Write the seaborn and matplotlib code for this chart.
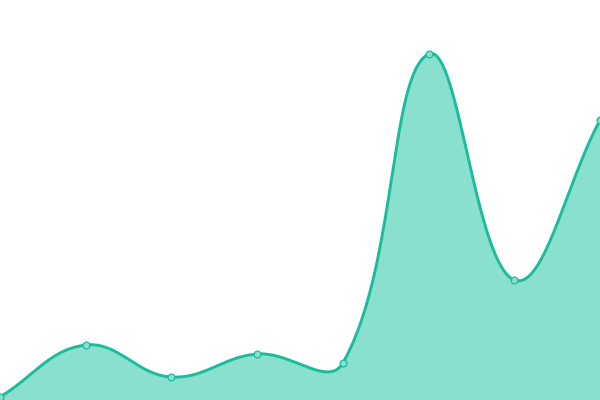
import matplotlib
matplotlib.use("Agg")
import matplotlib.pyplot as plt
import seaborn as sns
import numpy as np
import pandas as pd

# Duomenys
x_vals = [0, 1, 2, 3, 4, 5, 6, 7]
y_vals = [3, 55, 23, 46, 37, 346, 120, 280]

LINE = "#1abc9c"
FILL = "#8ae0cf"
TENSION = 0.4


def bezier_curve(xs, ys, sx=600 / 7, sy=1.0, tension=TENSION, steps=40):
    # glodi kreivė: valdymo taškai pagal atstumus ekrane
    xs = np.asarray(xs, float)
    ys = np.asarray(ys, float)
    n = len(xs)
    cps = []
    for i in range(n):
        prev = (xs[max(i - 1, 0)], ys[max(i - 1, 0)])
        nxt = (xs[min(i + 1, n - 1)], ys[min(i + 1, n - 1)])
        cur = (xs[i], ys[i])
        d01 = np.hypot((cur[0] - prev[0]) * sx, (cur[1] - prev[1]) * sy)
        d12 = np.hypot((nxt[0] - cur[0]) * sx, (nxt[1] - cur[1]) * sy)
        tot = d01 + d12
        s01 = d01 / tot if tot else 0
        s12 = d12 / tot if tot else 0
        fa, fb = tension * s01, tension * s12
        cp_prev = (cur[0] - fa * (nxt[0] - prev[0]), cur[1] - fa * (nxt[1] - prev[1]))
        cp_next = (cur[0] + fb * (nxt[0] - prev[0]), cur[1] + fb * (nxt[1] - prev[1]))
        cps.append((cp_prev, cp_next))
    out_x, out_y = [], []
    t = np.linspace(0, 1, steps, endpoint=False)
    for i in range(n - 1):
        p0 = (xs[i], ys[i])
        p1 = cps[i][1]
        p2 = cps[i + 1][0]
        p3 = (xs[i + 1], ys[i + 1])
        for k in range(2):
            out = out_x if k == 0 else out_y
            out.extend((1 - t) ** 3 * p0[k] + 3 * (1 - t) ** 2 * t * p1[k]
                       + 3 * (1 - t) * t ** 2 * p2[k] + t ** 3 * p3[k])
    out_x.append(xs[-1])
    out_y.append(ys[-1])
    return np.array(out_x), np.array(out_y)


cx, cy = bezier_curve(x_vals, y_vals)
curve = pd.DataFrame({"x": cx, "y": cy})
points = pd.DataFrame({"x": x_vals, "y": y_vals})

sns.set_theme(style="white")
fig = plt.figure(figsize=(6, 4), dpi=100)
ax = fig.add_axes([0, 0, 1, 1])

ax.fill_between(curve["x"], curve["y"], 0, color=FILL, linewidth=0)
sns.lineplot(data=curve, x="x", y="y", ax=ax, color=LINE, linewidth=2.1, sort=False)
sns.scatterplot(data=points, x="x", y="y", ax=ax, color=FILL, edgecolor=LINE,
                linewidth=0.9, s=24, zorder=5)

ax.set_xlim(0, 7)
ax.set_ylim(0, 400)
ax.axis("off")

fig.savefig("out.png", dpi=100)
